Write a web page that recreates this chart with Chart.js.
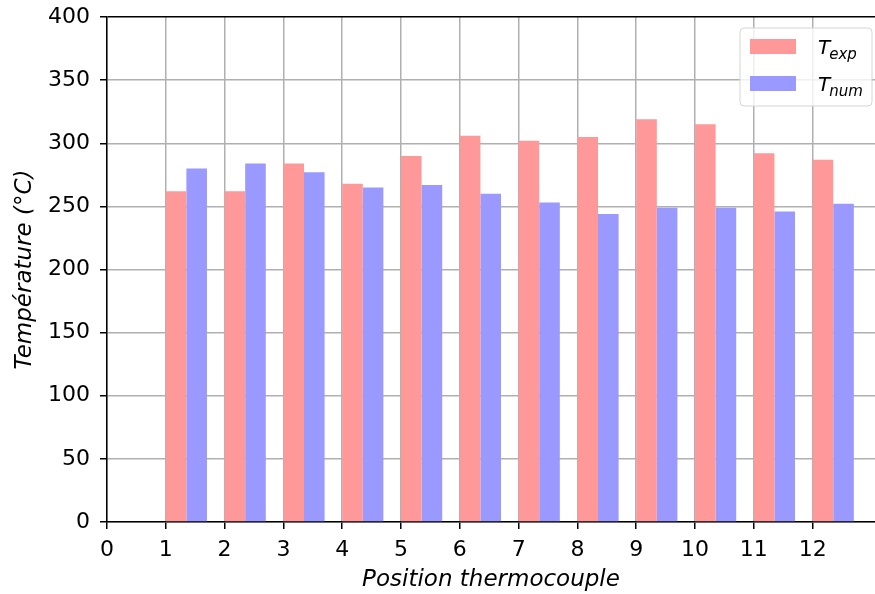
<!DOCTYPE html>
<html>
<head>
<meta charset="utf-8">
<script src="https://cdn.jsdelivr.net/npm/chart.js@4/dist/chart.umd.min.js"></script>
<style>
  html, body { margin: 0; padding: 0; background: #fff; }
  #wrap { width: 875px; height: 594px; }
</style>
</head>
<body>
<div id="wrap"><canvas id="tempChart" width="875" height="594"></canvas></div>
<script>
// thermocouple positions and measured / simulated temperatures
const positions = [1, 2, 3, 4, 5, 6, 7, 8, 9, 10, 11, 12];
const tExp = [262, 262, 284, 268, 290, 306, 302, 305, 319, 315, 292, 287];
const tNum = [280, 284, 277, 265, 267, 260, 253, 244, 249, 249, 246, 252];
const xTicks = [0, 1, 2, 3, 4, 5, 6, 7, 8, 9, 10, 11, 12];
const yTicks = [0, 50, 100, 150, 200, 250, 300, 350, 400];

const barWidth = 0.35;   // each bar, in x units (bars start on the integer)
const font = 'DejaVu Sans';

// legend with T and italic subscript, drawn on top like matplotlib
const legendPlugin = {
    id: 'mplLegend',
    afterDraw(chart) {
        const ctx = chart.ctx;
        const items = [
            { sub: 'exp', color: chart.data.datasets[0].backgroundColor },
            { sub: 'num', color: chart.data.datasets[1].backgroundColor }
        ];
        const bx = 740, by = 28, bw = 132, bh = 78;
        ctx.save();
        ctx.beginPath();
        ctx.roundRect(bx, by, bw, bh, 4);
        ctx.fillStyle = 'rgba(255,255,255,0.8)';
        ctx.fill();
        ctx.strokeStyle = '#d5d5d5';
        ctx.lineWidth = 1;
        ctx.stroke();
        items.forEach((it, i) => {
            const y = by + 11 + i * 37;
            ctx.fillStyle = it.color;
            ctx.fillRect(bx + 10, y, 46, 15);
            ctx.fillStyle = '#000';
            ctx.textBaseline = 'alphabetic';
            ctx.font = 'italic 20px "' + font + '"';
            ctx.fillText('T', bx + 78, y + 15);
            const w = ctx.measureText('T').width;
            ctx.font = 'italic 15px "' + font + '"';
            ctx.fillText(it.sub, bx + 78 + w - 1, y + 20);
        });
        ctx.restore();
    }
};

new Chart(document.getElementById('tempChart').getContext('2d'), {
    type: 'bar',
    data: {
        datasets: [{
            label: 'T_exp',
            data: positions.map((p, i) => ({ x: p + barWidth, y: tExp[i] })),
            backgroundColor: '#ff9999'
        }, {
            label: 'T_num',
            data: positions.map((p, i) => ({ x: p + barWidth, y: tNum[i] })),
            backgroundColor: '#9999ff'
        }]
    },
    options: {
        responsive: false,
        animation: false,
        devicePixelRatio: 1,
        layout: { padding: { top: 17, right: 0, left: 0, bottom: 0 } },
        datasets: {
            bar: { categoryPercentage: barWidth * 2, barPercentage: 1, borderWidth: 0 }
        },
        plugins: {
            legend: { display: false },
            tooltip: { enabled: false }
        },
        scales: {
            x: {
                type: 'linear',
                min: 0,
                max: 13.06,
                offset: false,
                z: 1,
                afterBuildTicks: (scale) => { scale.ticks = xTicks.map(v => ({ value: v })); },
                afterFit: (scale) => { scale.height = 72; scale.paddingRight = 0; scale.paddingLeft = 0; },
                grid: {
                    offset: false,
                    color: '#b0b0b0',
                    lineWidth: 1.5,
                    tickColor: '#000',
                    tickLength: 7
                },
                border: { color: '#000', width: 1.5 },
                ticks: {
                    color: '#000',
                    font: { family: font, size: 22 },
                    padding: 8,
                    maxRotation: 0,
                    autoSkip: false
                },
                title: {
                    display: true,
                    text: 'Position thermocouple',
                    color: '#000',
                    font: { family: font, size: 23, style: 'italic' },
                    padding: { top: 2, bottom: 0 }
                }
            },
            y: {
                min: 0,
                max: 400,
                z: 1,
                afterBuildTicks: (scale) => { scale.ticks = yTicks.map(v => ({ value: v })); },
                afterFit: (scale) => { scale.width = 107; scale.paddingTop = 0; scale.paddingBottom = 0; },
                grid: {
                    color: (c) => (c.tick && c.tick.value === 400) ? '#000' : '#b0b0b0',
                    lineWidth: 1.5,
                    tickColor: '#000',
                    tickLength: 7
                },
                border: { color: '#000', width: 1.5 },
                ticks: {
                    color: '#000',
                    font: { family: font, size: 22 },
                    padding: 10
                },
                title: {
                    display: true,
                    text: 'Température (°C)',
                    color: '#000',
                    font: { family: font, size: 23, style: 'italic' },
                    padding: { top: 11, bottom: 0 }
                }
            }
        }
    },
    plugins: [legendPlugin]
});
</script>
</body>
</html>
